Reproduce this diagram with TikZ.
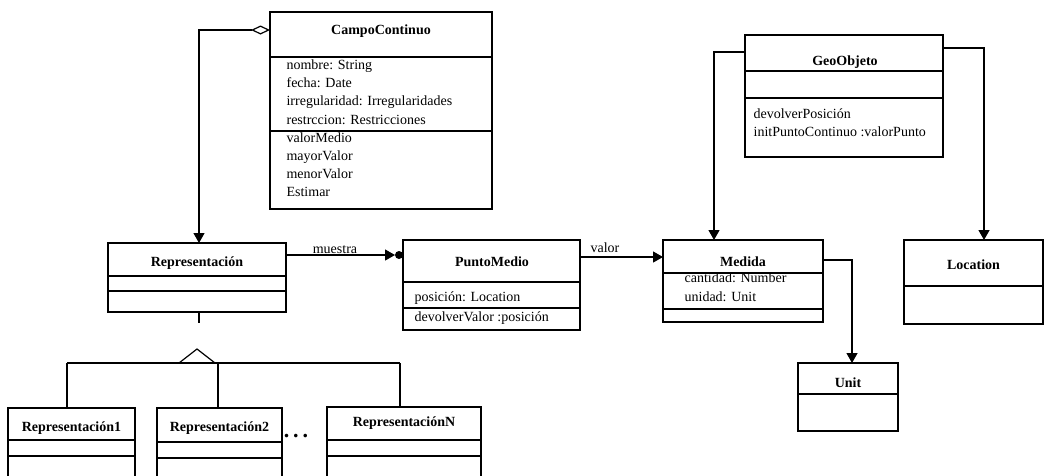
\documentclass[tikz,border=0pt]{standalone}
\usepackage{fontspec}
\setmainfont{Liberation Serif}
\usetikzlibrary{arrows.meta}
\newcommand\clsep[2]{\draw ([yshift=-#2pt]#1.north west) -- ([yshift=-#2pt]#1.north east);}
\begin{document}
\begin{tikzpicture}[x=1pt,y=-1pt,line width=1.2pt,
  box/.style={draw,rectangle,anchor=north west,inner sep=0pt,outer sep=0pt},
  ttl/.style={font=\fontsize{14}{18}\selectfont\bfseries,text height=10pt,text depth=3pt,inner sep=0pt},
  attr/.style={font=\fontsize{14}{18}\selectfont,anchor=west,text height=10pt,text depth=3pt,inner sep=0pt},
  lbl/.style={font=\fontsize{14}{18}\selectfont,inner sep=0pt,anchor=base},
  arr/.style={-{Triangle[length=10pt,width=11pt]}},
  dot/.style={circle,fill,inner sep=0pt,minimum size=8pt,outer sep=0pt}]
\useasboundingbox (0,0) rectangle (1048,475);
\clip (0,0) rectangle (1048,475);

% CampoContinuo
\node[box,minimum width=222pt,minimum height=197pt] (cc) at (270,12) {};
\clsep{cc}{45}
\clsep{cc}{119}
\node[ttl] (cct) at (381,31) {CampoContinuo};
\node[attr] (cca1) at (286,66) {nombre: String};
\node[attr] (cca2) at (286,84) {fecha: Date};
\node[attr] (cca3) at (286,102) {irregularidad: Irregularidades};
\node[attr] (cca4) at (286,121) {restrccion: Restricciones};
\node[attr] (cco1) at (286,139) {valorMedio};
\node[attr] (cco2) at (286,157) {mayorValor};
\node[attr] (cco3) at (286,175) {menorValor};
\node[attr] (cco4) at (286,193) {Estimar};

% GeoObjeto
\node[box,minimum width=198pt,minimum height=122pt] (geo) at (745,35) {};
\clsep{geo}{36}
\clsep{geo}{63}
\node[ttl] (geot) at (845,62) {GeoObjeto};
\node[attr] (geoo1) at (753,115) {devolverPosición};
\node[attr] (geoo2) at (753,133) {initPuntoContinuo :valorPunto};

% Representacion
\node[box,minimum width=178pt,minimum height=69pt] (rep) at (108,243) {};
\clsep{rep}{33}
\clsep{rep}{48}
\node[ttl] (rept) at (197,263) {Representación};

% PuntoMedio
\node[box,minimum width=177pt,minimum height=90pt] (pm) at (403,240) {};
\clsep{pm}{42}
\clsep{pm}{68}
\node[ttl] (pmt) at (492,263) {PuntoMedio};
\node[attr] (pma1) at (414,298) {posición: Location};
\node[attr] (pmo1) at (414,318) {devolverValor :posición};

% Medida
\node[box,minimum width=160pt,minimum height=82pt] (med) at (663,240) {};
\clsep{med}{33}
\clsep{med}{69}
\node[ttl] (medt) at (743,263) {Medida};
\node[attr] (meda1) at (684,279) {cantidad: Number};
\node[attr] (meda2) at (684,298) {unidad: Unit};

% Location
\node[box,minimum width=139pt,minimum height=84pt] (loc) at (904,240) {};
\clsep{loc}{46}
\node[ttl] (loct) at (973.5,266) {Location};

% Unit
\node[box,minimum width=100pt,minimum height=68pt] (unit) at (798,363) {};
\clsep{unit}{31}
\node[ttl] (unitt) at (848,384) {Unit};

% Subclasses
\node[box,minimum width=127pt,minimum height=90pt] (r1) at (8,408) {};
\clsep{r1}{32}
\clsep{r1}{48}
\node[ttl] (r1t) at (71.5,428) {Representación1};
\node[box,minimum width=125pt,minimum height=90pt] (r2) at (157,408) {};
\clsep{r2}{34}
\clsep{r2}{50}
\node[ttl] (r2t) at (219.5,428) {Representación2};
\node[box,minimum width=154pt,minimum height=90pt] (rn) at (327,407) {};
\clsep{rn}{33}
\clsep{rn}{49}
\node[ttl] (rnt) at (404,423) {RepresentaciónN};
\node[font=\fontsize{22}{22}\selectfont\bfseries,inner sep=0pt,anchor=base] (dots) at (296,437) {.\hspace{4pt}.\hspace{4pt}.};

% Aggregation CampoContinuo -> Representacion
\draw[{Diamond[open,length=19pt,width=9pt]}-{Triangle[length=10pt,width=11pt]}]
  ([yshift=-18pt]cc.north west) -| ([xshift=2pt]rep.north);

% Generalization
\coordinate (stubend) at (199,323);
\coordinate (apex) at (197,349);
\coordinate (gl) at (67,363);
\coordinate (gr) at (400,363);
\draw ([xshift=2pt]rep.south) -- (stubend);
\draw (179,363) -- (apex) -- (215,363);
\draw (gl) -- (gr);
\draw (gl) -- (gl |- r1.north);
\draw (218,363) -- (218,408);
\draw (gr) -- (gr |- rn.north);

% muestra
\node[dot,anchor=east] (dt) at ([yshift=-15pt]pm.north west) {};
\draw[arr] (rep.east |- dt) -- (dt.west);
\node[lbl] (muestra) at (335,253) {muestra};

% valor
\draw[arr] ([yshift=-17pt]pm.north east) -- ([yshift=-17pt]med.north west);
\node[lbl] (valor) at (605,252) {valor};

% GeoObjeto -> Medida, Location
\draw[arr] ([yshift=-17pt]geo.north west) -| ([xshift=-29pt]med.north);
\draw[arr] ([yshift=-13pt]geo.north east) -| ([xshift=10.5pt]loc.north);

% Medida -> Unit
\draw[arr] ([yshift=-20pt]med.north east) -| ([xshift=4pt]unit.north);
\end{tikzpicture}
\end{document}
